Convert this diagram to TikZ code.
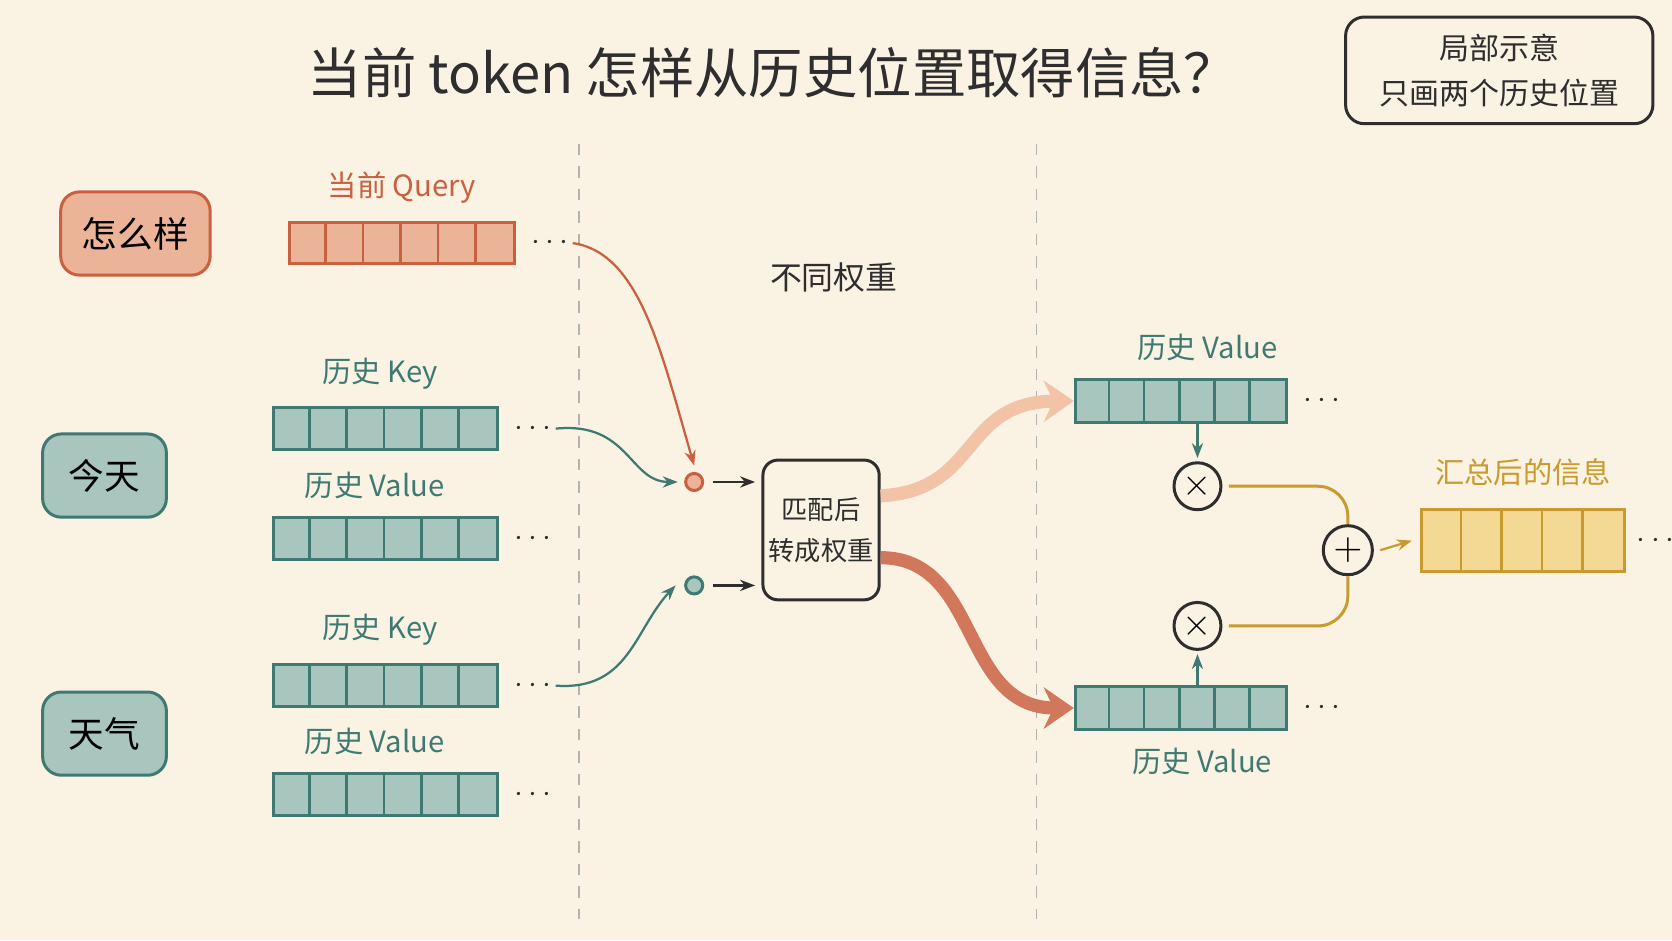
\documentclass[tikz,border=0pt]{standalone}
\usepackage{fontspec}
\setmainfont{Noto Sans CJK SC}
\usetikzlibrary{positioning,arrows.meta,calc}
\definecolor{paper}{HTML}{FAF2E3}
\definecolor{ink}{HTML}{2E2E2E}
\definecolor{rust}{HTML}{C9603F}
\definecolor{rustfill}{HTML}{EBB398}
\definecolor{peach}{HTML}{F2C3A6}
\definecolor{teal}{HTML}{3F7A72}
\definecolor{tealfill}{HTML}{A8C5BE}
\definecolor{gold}{HTML}{C99A2E}
\definecolor{goldfill}{HTML}{F3D994}
\tikzset{
  tag/.style={draw, rounded corners=5pt, line width=0.8pt, minimum width=1.16cm, minimum height=0.78cm, font=\fontsize{9.5}{10}\selectfont},
  bar/.style={draw, line width=0.8pt, inner sep=0pt},
  lbl/.style={font=\fontsize{7.8}{8}\selectfont},
  dots/.style={font=\fontsize{8}{8}\selectfont, text=ink, inner sep=1pt},
  link/.style={line width=0.6pt, -{Stealth[length=4pt]}},
  op/.style={circle, draw=ink, line width=0.8pt, minimum size=0.44cm, inner sep=0pt, fill=paper, font=\fontsize{10}{10}\selectfont}
}
% bar with n cells: name, x, y, width, n, draw, fill, height (picture units)
\newcommand{\cellbar}[8]{
  \node[bar, draw=#6, fill=#7, minimum width=#4*0.01cm, minimum height=#8*0.01cm, anchor=west] (#1) at (#2,#3) {};
  \foreach \k in {2,...,#5}{
    \pgfmathsetmacro\xx{#2+(\k-1)*#4/#5}
    \draw[#6, line width=0.7pt] (\xx,#3-#8/2) -- (\xx,#3+#8/2);
  }
}
\begin{document}
\begin{tikzpicture}[x=0.01cm, y=-0.01cm]
\fill[paper] (0,0) rectangle (1568,882);
\useasboundingbox (0,0) rectangle (1568,882);

\node[font=\fontsize{14.5}{15}\selectfont, text=ink] (title) at (725,68) {当前 token 怎样从历史位置取得信息？};
\node[draw=ink, line width=0.8pt, rounded corners=5pt, minimum width=2.88cm, minimum height=1cm, align=center,
  font=\fontsize{8}{12}\selectfont, text=ink] (note) at (1406,66) {局部示意\\只画两个历史位置};

\draw[gray!60, dashed, line width=0.5pt] (543,135) -- (543,862);
\draw[gray!60, dashed, line width=0.5pt] (972,135) -- (972,862);

% tokens
\node[tag, draw=rust, fill=rustfill, minimum width=1.4cm] (tq) at (127,219) {怎么样};
\node[tag, draw=teal, fill=tealfill] (t1) at (98,446) {今天};
\node[tag, draw=teal, fill=tealfill] (t2) at (98,688) {天气};

% left bars
\cellbar{q}{270}{228}{211}{6}{rust}{rustfill}{38}
\node[lbl, text=rust, above=0.04cm of q] {当前 Query};
\node[dots, right=0.1cm of q] (qd) {$\cdots$};
\cellbar{k1}{255}{402}{210}{6}{teal}{tealfill}{39}
\node[lbl, text=teal, above=0.04cm of k1, xshift=-0.05cm] {历史 Key};
\node[dots, right=0.1cm of k1] (k1d) {$\cdots$};
\cellbar{v1}{255}{505}{210}{6}{teal}{tealfill}{39}
\node[lbl, text=teal, above=0.04cm of v1, xshift=-0.1cm] {历史 Value};
\node[dots, right=0.1cm of v1] {$\cdots$};
\cellbar{k2}{255}{643}{210}{6}{teal}{tealfill}{39}
\node[lbl, text=teal, above=0.04cm of k2, xshift=-0.05cm] {历史 Key};
\node[dots, right=0.1cm of k2] (k2d) {$\cdots$};
\cellbar{v2}{255}{745}{210}{6}{teal}{tealfill}{39}
\node[lbl, text=teal, above=0.04cm of v2, xshift=-0.1cm] {历史 Value};
\node[dots, right=0.1cm of v2] {$\cdots$};

% scores
\node[circle, draw=rust, fill=rustfill, line width=0.8pt, minimum size=0.16cm, inner sep=0pt] (s1) at (651,452) {};
\node[circle, draw=teal, fill=tealfill, line width=0.8pt, minimum size=0.16cm, inner sep=0pt] (s2) at (651,549) {};
\node[draw=ink, line width=0.8pt, rounded corners=4pt, minimum width=0.99cm, minimum height=1.31cm, inner xsep=1.5pt, align=center,
  font=\fontsize{7}{11}\selectfont, text=ink] (mix) at (770,497) {匹配后\\转成权重};
\node[font=\fontsize{8.5}{8.5}\selectfont, text=ink] (wlab) at (782,260) {不同权重};

\draw[link, rust] (qd.east) .. controls (600,237) and (620,330) .. ($(s1.north)+(0,-6)$);
\draw[link, teal] (k1d.east) .. controls (590,395) and (590,452) .. ($(s1.west)+(-6,0)$);
\draw[link, teal] (k2d.east) .. controls (590,648) and (595,590) .. ($(s2.west)+(-8,0)$);
\draw[link, ink] ($(s1.east)+(8,0)$) -- ($(mix.west |- s1)+(-6,0)$);
\draw[link, ink] ($(s2.east)+(8,0)$) -- ($(mix.west |- s2)+(-6,0)$);

% right bars
\cellbar{r1}{1007}{376}{198}{6}{teal}{tealfill}{40}
\node[lbl, text=teal, above=0.04cm of r1, xshift=0.25cm] {历史 Value};
\node[dots, right=0.1cm of r1] {$\cdots$};
\cellbar{r2}{1007}{664}{198}{6}{teal}{tealfill}{40}
\node[lbl, text=teal, below=0.04cm of r2, xshift=0.2cm] {历史 Value};
\node[dots, right=0.1cm of r2] {$\cdots$};

\draw[peach, line width=3.5pt, -{Stealth[length=8pt, width=11pt]}] (mix.east |- 0,465) .. controls (920,460) and (900,377) .. (r1.west);
\draw[rust!85, line width=3.5pt, -{Stealth[length=8pt, width=11pt]}] (mix.east |- 0,523) .. controls (920,523) and (900,664) .. (r2.west);

\node[op] (m1) at (1123,456) {$\times$};
\node[op] (m2) at (1123,587) {$\times$};
\node[op, minimum size=0.46cm] (sum) at (1264,516) {$+$};
\draw[link, teal] (m1 |- r1.south) -- ($(m1.north)+(0,-3)$);
\draw[link, teal] (m2 |- r2.north) -- ($(m2.south)+(0,3)$);
\draw[gold, line width=0.8pt, rounded corners=8pt] ($(m1.east)+(6,0)$) -| (sum.north);
\draw[gold, line width=0.8pt, rounded corners=8pt] ($(m2.east)+(6,0)$) -| (sum.south);

\cellbar{out}{1332}{507}{190}{5}{gold}{goldfill}{58}
\node[lbl, text=gold, above=0.08cm of out] {汇总后的信息};
\node[dots, right=0.06cm of out] {$\cdots$};
\draw[link, gold] ($(sum.east)+(6,0)$) -- ($(out.west)+(-8,0)$);
\end{tikzpicture}
\end{document}
